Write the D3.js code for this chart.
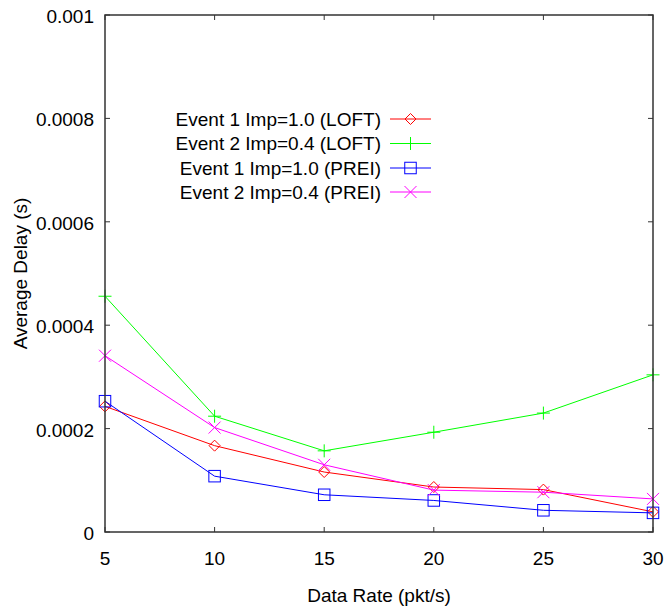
<!DOCTYPE html>
<html lang="en">
<head>
<meta charset="UTF-8">
<title>Average Delay vs Data Rate</title>
<script src="https://d3js.org/d3.v7.min.js"></script>
<style>
  body { margin: 0; background: #fff; }
  svg { display: block; font-family: "Liberation Sans", Arial, sans-serif; }
</style>
</head>
<body>
<svg id="chart" width="664" height="608"></svg>
<script>
// data
const rates = [5, 10, 15, 20, 25, 30];
const loftEvent1 = [0.000243, 0.000167, 0.000116, 0.000087, 0.000082, 0.000039];
const loftEvent2 = [0.000456, 0.000224, 0.000157, 0.000193, 0.000230, 0.000304];
const preiEvent1 = [0.000253, 0.000108, 0.000072, 0.000061, 0.000042, 0.000037];
const preiEvent2 = [0.000341, 0.000202, 0.000130, 0.000081, 0.000077, 0.000064];
const xTicks = [5, 10, 15, 20, 25, 30];
const yTicks = [0, 0.0002, 0.0004, 0.0006, 0.0008, 0.001];
const yTickLabels = ["0", "0.0002", "0.0004", "0.0006", "0.0008", "0.001"];

const series = [
  { name: "Event 1 Imp=1.0 (LOFT)", values: loftEvent1, color: "#ff0000", marker: "diamond" },
  { name: "Event 2 Imp=0.4 (LOFT)", values: loftEvent2, color: "#00ff00", marker: "plus" },
  { name: "Event 1 Imp=1.0 (PREI)", values: preiEvent1, color: "#0000ff", marker: "square" },
  { name: "Event 2 Imp=0.4 (PREI)", values: preiEvent2, color: "#ff00ff", marker: "cross" }
];

const plotLeft = 105, plotRight = 653, plotTop = 15, plotBottom = 532;
const fontSize = 19;
const svg = d3.select("#chart");

const x = d3.scaleLinear().domain([5, 30]).range([plotLeft, plotRight]);
const y = d3.scaleLinear().domain([0, 0.001]).range([plotBottom, plotTop]);

// ticks, drawn inward on all four sides (gnuplot mirror style)
const tickLen = 5;
const ticks = svg.append("g").attr("stroke", "#333").attr("stroke-width", 1);
yTicks.forEach(v => {
  ticks.append("line").attr("x1", plotLeft).attr("x2", plotLeft + tickLen).attr("y1", y(v)).attr("y2", y(v));
  ticks.append("line").attr("x1", plotRight).attr("x2", plotRight - tickLen).attr("y1", y(v)).attr("y2", y(v));
});
xTicks.forEach(v => {
  ticks.append("line").attr("x1", x(v)).attr("x2", x(v)).attr("y1", plotBottom).attr("y2", plotBottom - tickLen);
  ticks.append("line").attr("x1", x(v)).attr("x2", x(v)).attr("y1", plotTop).attr("y2", plotTop + tickLen);
});

// tick labels
svg.append("g").selectAll("text").data(yTicks).enter().append("text")
  .attr("x", plotLeft - 11)
  .attr("y", d => y(d))
  .attr("dy", "0.42em")
  .attr("text-anchor", "end")
  .attr("font-size", fontSize)
  .text((d, i) => yTickLabels[i]);

svg.append("g").selectAll("text").data(xTicks).enter().append("text")
  .attr("x", d => x(d))
  .attr("y", plotBottom + 33)
  .attr("text-anchor", "middle")
  .attr("font-size", fontSize)
  .text(d => d);

// axis titles
svg.append("text")
  .attr("x", (plotLeft + plotRight) / 2)
  .attr("y", 602)
  .attr("text-anchor", "middle")
  .attr("font-size", fontSize)
  .text("Data Rate (pkt/s)");

svg.append("text")
  .attr("transform", `translate(27,${(plotTop + plotBottom) / 2}) rotate(-90)`)
  .attr("text-anchor", "middle")
  .attr("font-size", fontSize)
  .text("Average Delay (s)");

// marker shapes
function drawMarker(g, type, cx, cy, color) {
  if (type === "diamond") {
    const r = 5.5;
    g.append("path").attr("d", `M${cx},${cy - r}L${cx + r},${cy}L${cx},${cy + r}L${cx - r},${cy}Z`)
      .attr("fill", "none").attr("stroke", color);
  } else if (type === "square") {
    const r = 5.75;
    g.append("rect").attr("x", cx - r).attr("y", cy - r).attr("width", 2 * r).attr("height", 2 * r)
      .attr("fill", "none").attr("stroke", color);
  } else if (type === "plus") {
    const r = 6.5;
    g.append("path").attr("d", `M${cx - r},${cy}H${cx + r}M${cx},${cy - r}V${cy + r}`)
      .attr("stroke", color);
  } else if (type === "cross") {
    const r = 6;
    g.append("path").attr("d", `M${cx - r},${cy - r}L${cx + r},${cy + r}M${cx - r},${cy + r}L${cx + r},${cy - r}`)
      .attr("stroke", color);
  }
}

const line = d3.line().x((d, i) => x(rates[i])).y(d => y(d));

series.forEach(s => {
  const g = svg.append("g");
  g.append("path").datum(s.values)
    .attr("d", line)
    .attr("fill", "none")
    .attr("stroke", s.color)
    .attr("stroke-width", 1);
  s.values.forEach((v, i) => drawMarker(g, s.marker, x(rates[i]), y(v), s.color));
});

// legend
const legendTextX = 381, legendLineX1 = 390, legendLineX2 = 431;
const legendY = [119, 143.5, 168, 192];
series.forEach((s, i) => {
  const g = svg.append("g");
  g.append("text")
    .attr("x", legendTextX)
    .attr("y", legendY[i])
    .attr("dy", "0.36em")
    .attr("text-anchor", "end")
    .attr("font-size", fontSize)
    .text(s.name);
  g.append("line")
    .attr("x1", legendLineX1).attr("x2", legendLineX2)
    .attr("y1", legendY[i]).attr("y2", legendY[i])
    .attr("stroke", s.color);
  drawMarker(g, s.marker, (legendLineX1 + legendLineX2) / 2, legendY[i], s.color);
});

// plot frame
svg.append("rect")
  .attr("x", plotLeft).attr("y", plotTop)
  .attr("width", plotRight - plotLeft).attr("height", plotBottom - plotTop)
  .attr("fill", "none")
  .attr("stroke", "#333")
  .attr("stroke-width", 1.5);
</script>
</body>
</html>
